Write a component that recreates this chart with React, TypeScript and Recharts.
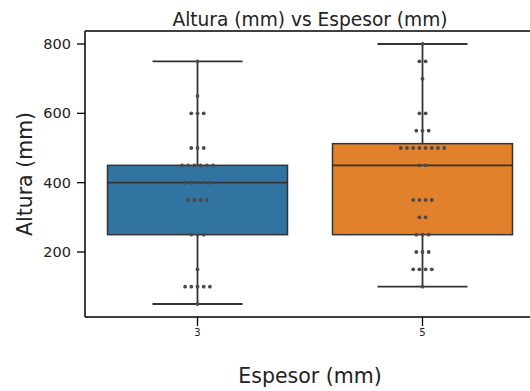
import { ComposedChart, Bar, Scatter, XAxis, YAxis, ReferenceLine } from 'recharts'

const CATEGORIES = ['3', '5']
const BOX_COLORS = ['#3274a1', '#e1812c']
const Q1 = [250, 250]
const MEDIAN = [400, 450]
const Q3 = [450, 512.5]
const WHISKER_LOW = [50, 100]
const WHISKER_HIGH = [750, 800]

// swarm dots: the value levels and how many dots sit on each one
const LEVELS_3 = [750, 650, 600, 500, 450, 400, 350, 250, 150, 100, 50]
const COUNTS_3 = [1, 1, 3, 3, 6, 5, 4, 3, 1, 5, 1]
const LEVELS_5 = [800, 750, 700, 600, 550, 500, 450, 350, 300, 250, 200, 150, 100]
const COUNTS_5 = [1, 2, 1, 2, 3, 8, 2, 4, 2, 3, 3, 4, 1]

const Y_TICKS = [200, 400, 600, 800]
const Y_DOMAIN = [12.5, 837.5]

const FONT = 'DejaVu Sans'
const EDGE = '#333333'
const DOT_GAP = 6.2

const boxes = CATEGORIES.map((c, i) => ({
  x: i,
  cat: c,
  q1: Q1[i],
  med: MEDIAN[i],
  q3: Q3[i],
  low: WHISKER_LOW[i],
  high: WHISKER_HIGH[i],
}))

const swarm = (x: number, levels: number[], counts: number[]) =>
  levels.flatMap((v, k) =>
    Array.from({ length: counts[k] }, (_, j) => ({ x, y: v, slot: j - (counts[k] - 1) / 2 }))
  )

const dots = [...swarm(0, LEVELS_3, COUNTS_3), ...swarm(1, LEVELS_5, COUNTS_5)]

const BoxShape = (props: any) => {
  const { x, y, width, height, payload } = props
  const top = Math.min(y, y + height)
  const h = Math.abs(height)
  const per = h / (payload.q3 - payload.q1)
  const py = (v: number) => top + h - (v - payload.q1) * per
  const cx = x + width / 2
  const cap = width / 4
  const line = { stroke: EDGE, strokeWidth: 1.8 }
  return (
    <g>
      <line x1={cx} x2={cx} y1={py(payload.q3)} y2={py(payload.high)} {...line} />
      <line x1={cx} x2={cx} y1={py(payload.q1)} y2={py(payload.low)} {...line} />
      <line x1={cx - cap} x2={cx + cap} y1={py(payload.high)} y2={py(payload.high)} {...line} />
      <line x1={cx - cap} x2={cx + cap} y1={py(payload.low)} y2={py(payload.low)} {...line} />
      <rect x={x} y={top} width={width} height={h} fill={BOX_COLORS[payload.x]} stroke={EDGE} strokeWidth={1.5} />
      <line x1={x} x2={x + width} y1={py(payload.med)} y2={py(payload.med)} {...line} />
    </g>
  )
}

const DotShape = (props: any) => (
  <circle cx={props.cx + props.payload.slot * DOT_GAP} cy={props.cy} r={1.9} fill="#4a4a4a" />
)

export default function App() {
  return (
    <div style={{ position: 'absolute', left: 0, top: 0, width: 530, height: 391, overflow: 'hidden', background: '#fff' }}>
      <ComposedChart width={540} height={391} data={boxes} margin={{ top: 31, right: 5, bottom: 0, left: 0 }} barCategoryGap="10%">
        <XAxis
          type="number"
          dataKey="x"
          domain={[-0.5, 1.5]}
          ticks={[0, 1]}
          allowDataOverflow
          height={74}
          tickFormatter={(v) => CATEGORIES[v]}
          tick={{ fontFamily: FONT, fontSize: 10, fill: '#222' }}
          tickSize={9}
          tickMargin={3}
          tickLine={{ stroke: '#000', strokeWidth: 1.3 }}
          axisLine={{ stroke: '#000', strokeWidth: 1.5 }}
          label={{
            content: ({ viewBox }: any) => (
              <text x={viewBox.x + viewBox.width / 2} y={375.5} textAnchor="middle" dominantBaseline="central" fontFamily={FONT} fontSize={20.5} fill="#222">
                Espesor (mm)
              </text>
            ),
          }}
        />
        <YAxis
          type="number"
          domain={Y_DOMAIN}
          ticks={Y_TICKS}
          allowDataOverflow
          width={85}
          tick={{ fontFamily: FONT, fontSize: 14.5, fill: '#222' }}
          tickSize={8}
          tickMargin={6}
          tickLine={{ stroke: '#000', strokeWidth: 1.3 }}
          axisLine={{ stroke: '#000', strokeWidth: 1.5 }}
          label={{
            content: ({ viewBox }: any) => (
              <text
                x={25}
                y={viewBox.y + viewBox.height / 2}
                textAnchor="middle"
                dominantBaseline="central"
                fontFamily={FONT}
                fontSize={20.5}
                fill="#222"
                transform={`rotate(-90 25 ${viewBox.y + viewBox.height / 2})`}
              >
                Altura (mm)
              </text>
            ),
          }}
        />
        <ReferenceLine
          y={Y_DOMAIN[1]}
          stroke="#000"
          strokeWidth={1.5}
          label={{
            content: ({ viewBox }: any) => (
              <text x={viewBox.x + viewBox.width / 2} y={viewBox.y - 11.5} textAnchor="middle" dominantBaseline="central" fontFamily={FONT} fontSize={18.6} fill="#222">
                Altura (mm) vs Espesor (mm)
              </text>
            ),
          }}
        />
        <Bar dataKey={(d: any) => [d.q1, d.q3]} shape={BoxShape} isAnimationActive={false} />
        <Scatter data={dots} dataKey="y" shape={DotShape} isAnimationActive={false} />
      </ComposedChart>
    </div>
  )
}
